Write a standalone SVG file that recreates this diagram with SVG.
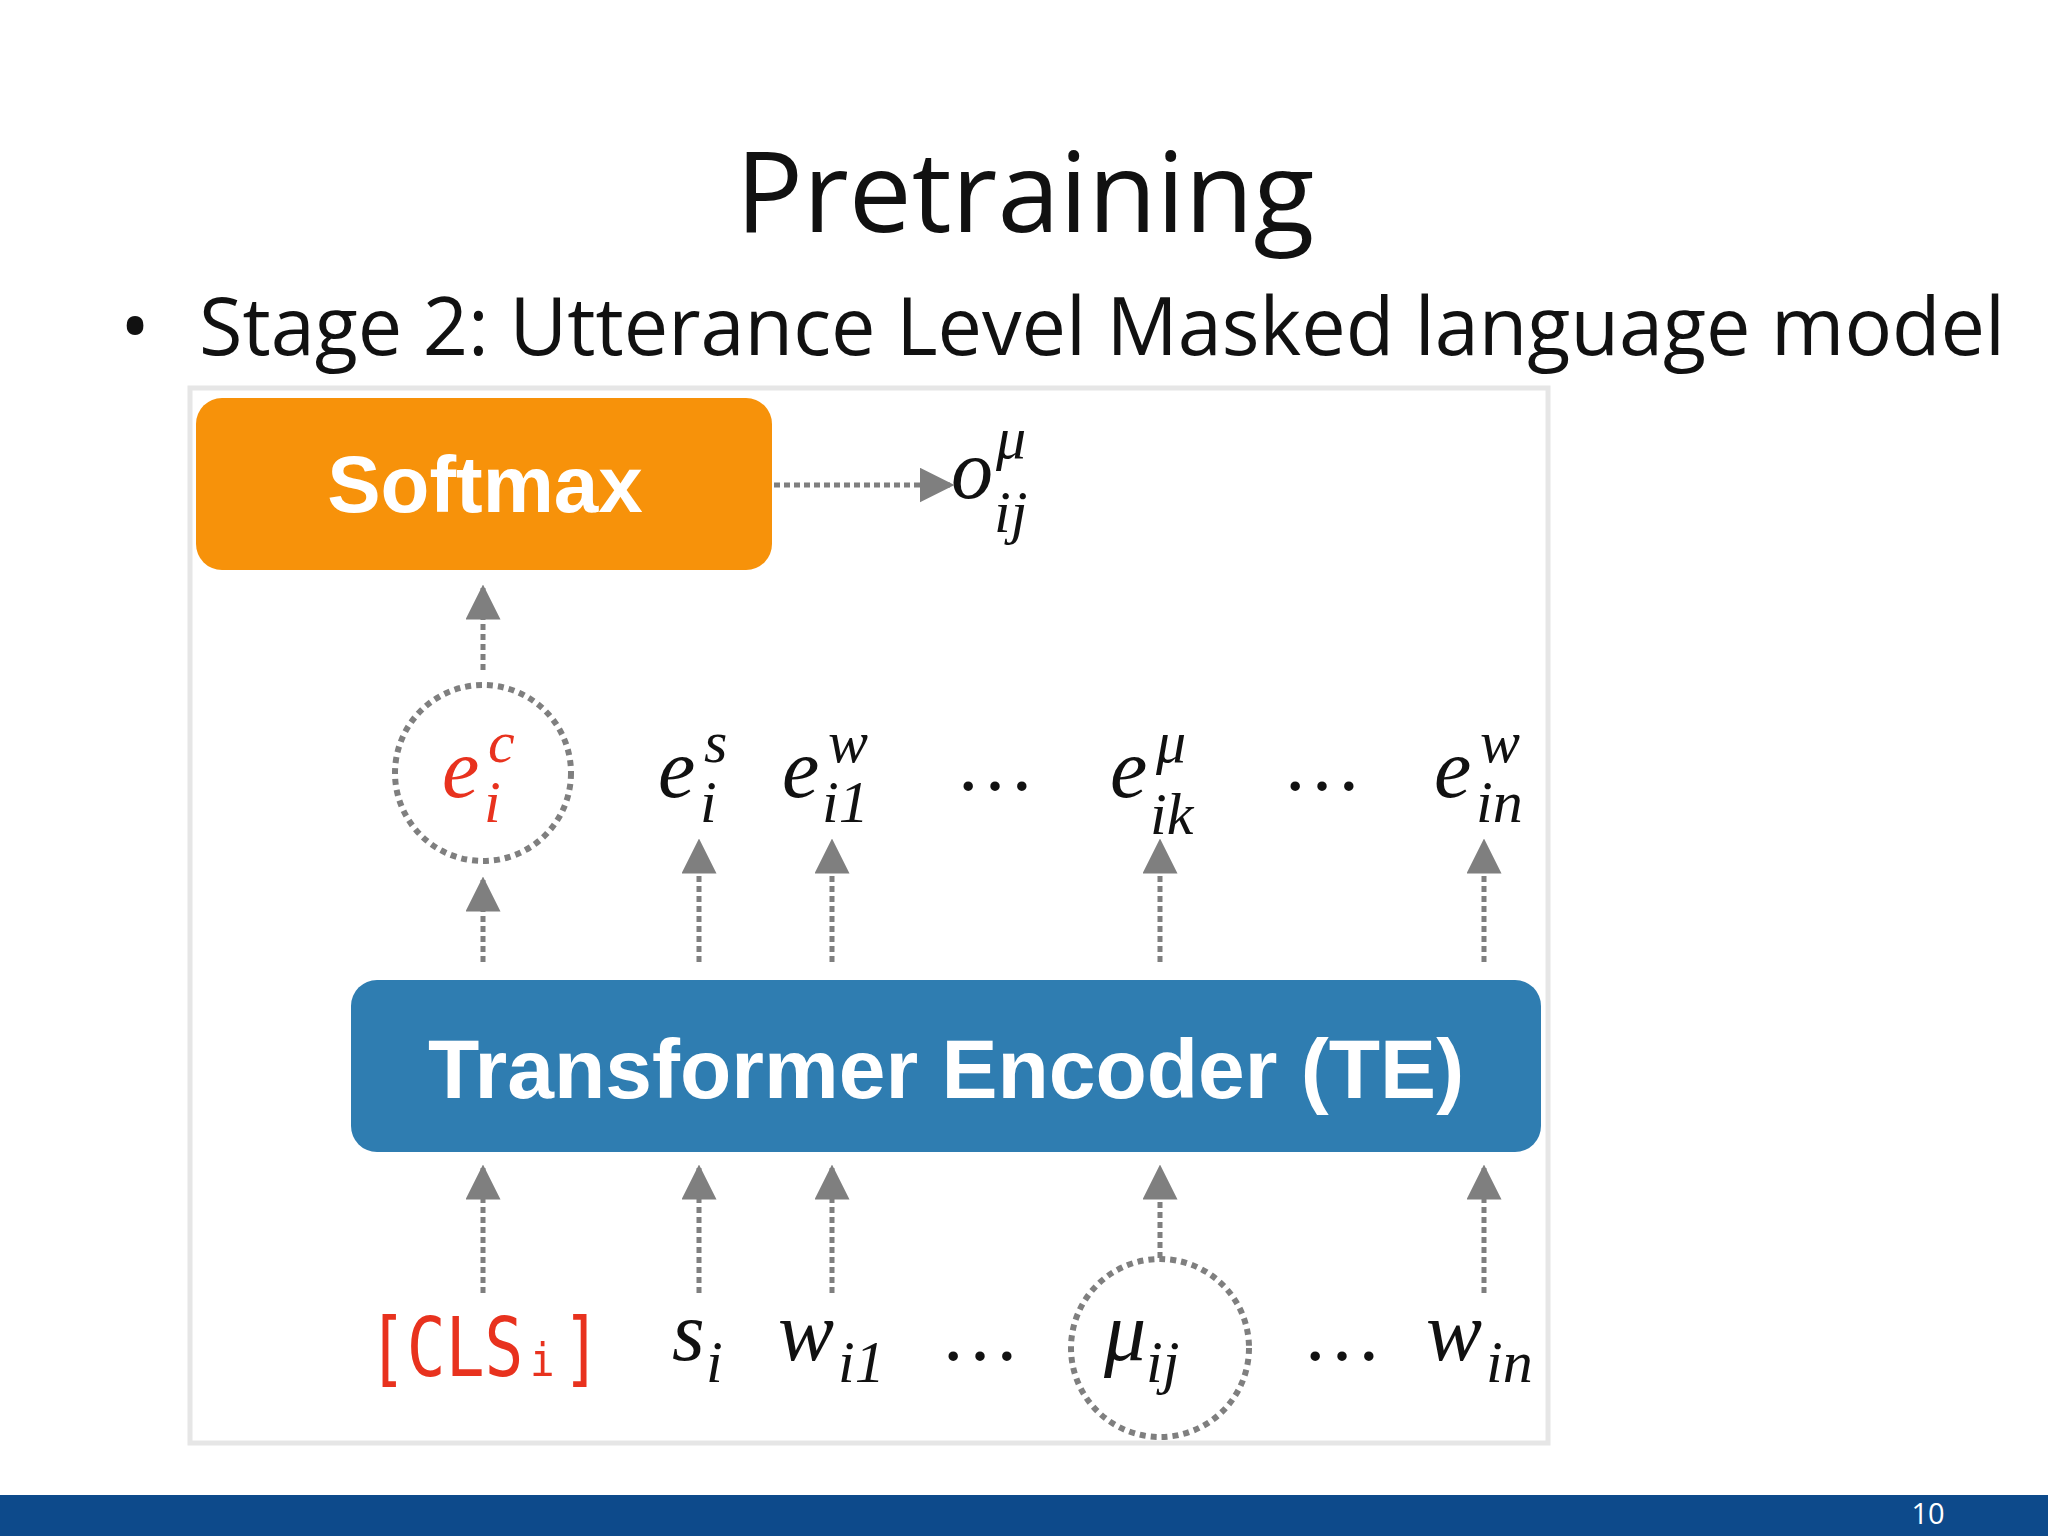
<svg xmlns="http://www.w3.org/2000/svg" width="2048" height="1536" viewBox="0 0 2048 1536">
<defs>
<marker id="ah" viewBox="0 0 10 10" refX="9" refY="5" markerWidth="7" markerHeight="7" orient="auto" markerUnits="strokeWidth"><path d="M0,0 L10,5 L0,10 z" fill="#7f7f7f"/></marker>
<style>
.c{stroke:#7f7f7f;stroke-width:5;stroke-dasharray:6 4;fill:none;marker-end:url(#ah)}
.m{font-family:"Liberation Serif",serif;font-style:italic;fill:#111}
.b{font-size:84px}.s{font-size:60px}
.dots{font-family:"Liberation Serif",serif;font-size:80px;fill:#111}
.ring{fill:none;stroke:#7f7f7f;stroke-width:6;stroke-dasharray:6 5}
</style>
</defs>
<rect width="2048" height="1536" fill="#fff"/>
<text x="1025" y="232" font-family="Open Sans,sans-serif" font-size="112" text-anchor="middle" fill="#111">Pretraining</text>
<text x="120" y="355" font-family="Open Sans,sans-serif" font-size="80" fill="#111">•</text>
<text x="199" y="355" font-family="Open Sans,sans-serif" font-size="80" fill="#111" textLength="1806" lengthAdjust="spacingAndGlyphs">Stage 2: Utterance Level Masked language model</text>
<rect x="190" y="388" width="1358" height="1055" fill="#fff" stroke="#e6e6e6" stroke-width="5"/>
<g id="softmax"><rect x="196" y="398" width="576" height="172" rx="26" fill="#F7920A"/>
<text x="485" y="512" font-family="Liberation Sans,sans-serif" font-weight="bold" font-size="80" fill="#fff" text-anchor="middle">Softmax</text></g>
<g id="te"><rect x="351" y="980" width="1190" height="172" rx="26" fill="#2F7DB1"/>
<text x="946" y="1098" font-family="Liberation Sans,sans-serif" font-weight="bold" font-size="84" fill="#fff" text-anchor="middle">Transformer Encoder (TE)</text></g>
<g id="output"><text x="951" y="498" class="m b">o</text><text x="996" y="458" class="m s">μ</text><text x="994" y="532" class="m s">ij</text></g>
<g id="top-tokens">
<circle cx="483" cy="773" r="88" class="ring"/>
<text x="442" y="797" class="m b" fill="#e8321e" style="fill:#e8321e">e</text><text x="488" y="762" class="m s" style="fill:#e8321e">c</text><text x="484" y="822" class="m s" style="fill:#e8321e">i</text>
<text x="658" y="797" class="m b">e</text><text x="704" y="762" class="m s">s</text><text x="700" y="822" class="m s">i</text>
<text x="782" y="797" class="m b">e</text><text x="828" y="762" class="m s">w</text><text x="822" y="822" class="m s">i1</text>
<text x="995" y="790" class="dots" text-anchor="middle">…</text>
<text x="1110" y="797" class="m b">e</text><text x="1156" y="762" class="m s">μ</text><text x="1150" y="834" class="m s">ik</text>
<text x="1322" y="790" class="dots" text-anchor="middle">…</text>
<text x="1434" y="797" class="m b">e</text><text x="1480" y="762" class="m s">w</text><text x="1476" y="822" class="m s">in</text>
</g>
<g id="bottom-tokens">
<text x="368" y="1376" font-family="DejaVu Sans Mono,monospace" font-size="82" fill="#e8321e" textLength="233" lengthAdjust="spacingAndGlyphs">[CLSᵢ]</text>
<text x="672" y="1360" class="m b">s</text><text x="706" y="1382" class="m s">i</text>
<text x="778" y="1360" class="m b">w</text><text x="838" y="1382" class="m s">i1</text>
<text x="980" y="1360" class="dots" text-anchor="middle">…</text>
<circle cx="1160" cy="1348" r="89" class="ring"/>
<text x="1104" y="1360" class="m b">μ</text><text x="1146" y="1382" class="m s">ij</text>
<text x="1342" y="1360" class="dots" text-anchor="middle">…</text>
<text x="1426" y="1360" class="m b">w</text><text x="1486" y="1382" class="m s">in</text>
</g>
<g id="connectors">
<line x1="774" y1="485" x2="951" y2="485" class="c"/>
<line x1="483" y1="670" x2="483" y2="588" class="c"/>
<line x1="483" y1="962" x2="483" y2="880" class="c"/>
<line x1="699" y1="962" x2="699" y2="842" class="c"/>
<line x1="832" y1="962" x2="832" y2="842" class="c"/>
<line x1="1160" y1="962" x2="1160" y2="842" class="c"/>
<line x1="1484" y1="962" x2="1484" y2="842" class="c"/>
<line x1="483" y1="1293" x2="483" y2="1168" class="c"/>
<line x1="699" y1="1293" x2="699" y2="1168" class="c"/>
<line x1="832" y1="1293" x2="832" y2="1168" class="c"/>
<line x1="1160" y1="1258" x2="1160" y2="1168" class="c"/>
<line x1="1484" y1="1293" x2="1484" y2="1168" class="c"/>
</g>
<rect x="0" y="1495" width="2048" height="41" fill="#0D4A8B"/>
<text x="1928" y="1524" font-family="Open Sans,sans-serif" font-size="29" fill="#fff" text-anchor="middle">10</text>
</svg>
